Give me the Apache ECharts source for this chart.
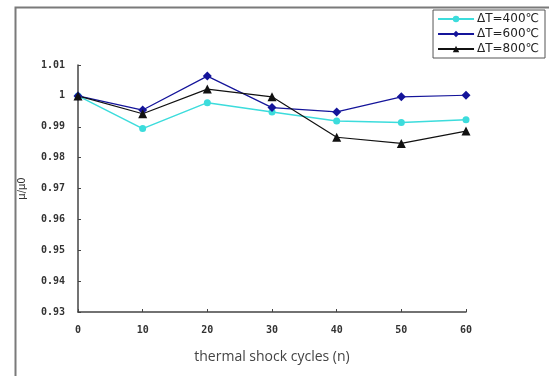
<!DOCTYPE html>
<html>
<head>
<meta charset="utf-8">
<script src="https://cdn.jsdelivr.net/npm/echarts@6/dist/echarts.min.js"></script>
<style>
html,body{margin:0;padding:0;background:#fff;}
#c{width:549px;height:376px;}
</style>
</head>
<body>
<div id="c"></div>
<script>
var cycles = [0, 10, 20, 30, 40, 50, 60];
var dT400 = [1.0, 0.9894, 0.9978, 0.9948, 0.9919, 0.9914, 0.9923];
var dT600 = [1.0, 0.9954, 1.0064, 0.9962, 0.9948, 0.9997, 1.0002];
var dT800 = [1.0, 0.9942, 1.0022, 0.9997, 0.9866, 0.9846, 0.9886];
var seriesNames = ['\u0394T=400\u2103', '\u0394T=600\u2103', '\u0394T=800\u2103'];
var yTicks = ['0.93','0.94','0.95','0.96','0.97','0.98','0.99','1','1.01'];

function pairs(ys){ return cycles.map(function(x,i){ return [x, ys[i]]; }); }

var chart = echarts.init(document.getElementById('c'));
var tickFont = {fontFamily:'DejaVu Sans Mono', fontWeight:'bold', fontSize:10, color:'#333'};
chart.setOption({
  animation:false,
  backgroundColor:'#fff',
  graphic:[{
    type:'rect', left:13, top:5, shape:{width:600, height:420},
    style:{fill:'none', stroke:'#7a7a7a', lineWidth:2}, silent:true
  }],
  grid:{left:78, right:83, top:65, bottom:64},
  legend:{
    right:4, top:10, orient:'vertical', itemGap:3,
    itemWidth:36, itemHeight:8,
    borderColor:'#555', borderWidth:1, borderRadius:0,
    padding:[3,6,3,4],
    backgroundColor:'#fff',
    textStyle:{fontFamily:'DejaVu Sans', fontSize:12, color:'#222', padding:[0,0,0,-2]},
    data:seriesNames
  },
  xAxis:{
    type:'value', min:0, max:60, interval:10,
    name:'thermal shock cycles (n)', nameLocation:'middle', nameGap:38,
    nameTextStyle:{fontFamily:'Open Sans', fontSize:14, color:'#444'},
    axisLine:{lineStyle:{color:'#444', width:1.5}},
    axisTick:{inside:true, length:3, lineStyle:{color:'#444'}},
    axisLabel:Object.assign({margin:13, formatter:function(v){return String(v);}}, tickFont),
    splitLine:{show:false}
  },
  yAxis:{
    type:'value', min:0.93, max:1.01, interval:0.01,
    name:'\u03bc/\u03bc0', nameLocation:'middle', nameGap:51, nameRotate:90,
    nameTextStyle:{fontFamily:'DejaVu Sans', fontSize:10, color:'#333'},
    axisLine:{show:true, lineStyle:{color:'#444', width:1.5}},
    axisTick:{show:true, inside:true, length:3, lineStyle:{color:'#444'}},
    axisLabel:Object.assign({margin:13, formatter:function(v){
      var idx = Math.round((v-0.93)/0.01); return yTicks[idx] !== undefined ? yTicks[idx] : '';
    }}, tickFont),
    splitLine:{show:false}
  },
  series:[
    {name:seriesNames[0], type:'line', data:pairs(dT400), symbol:'circle', symbolSize:7,
     itemStyle:{color:'#3cdcdc'}, lineStyle:{color:'#3cdcdc', width:1.5}},
    {name:seriesNames[1], type:'line', data:pairs(dT600), symbol:'diamond', symbolSize:9,
     itemStyle:{color:'#14149a'}, lineStyle:{color:'#14149a', width:1.2}},
    {name:seriesNames[2], type:'line', data:pairs(dT800), symbol:'triangle', symbolSize:9,
     itemStyle:{color:'#111'}, lineStyle:{color:'#111', width:1.2}}
  ]
});
</script>
</body>
</html>
